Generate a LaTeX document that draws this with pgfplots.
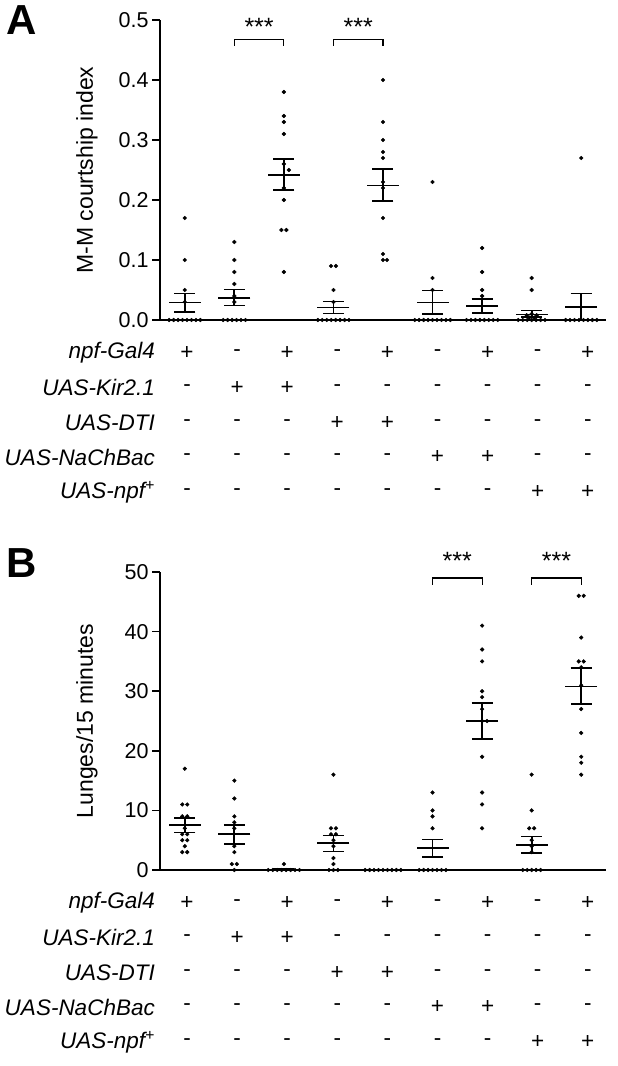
\documentclass[border=0pt]{standalone}
\usepackage{fontspec}
\setmainfont{Liberation Sans}
\usepackage{pgfplots}
\usepackage{pgfplotstable}
\pgfplotsset{compat=1.18}

\newcommand{\tickfont}{\fontsize{21.5}{26}\selectfont}
\newcommand{\rowfont}{\fontsize{22.5}{27}\selectfont}
\newcommand{\labfont}{\fontsize{23}{28}\selectfont}
\newcommand{\starfont}{\fontsize{25}{30}\selectfont}

\pgfplotsset{
  panel/.style={
    scale only axis, width=446pt,
    xmin=0.5, xmax=9.5, xtick=\empty, ymin=0,
    axis x line=bottom, axis y line=left,
    axis line style={-, line width=1.5pt},
    ytick style={line width=1.5pt, black},
    tick align=outside, major tick length=8pt,
    tick label style={font=\tickfont},
    /pgf/number format/assume math mode=true,
    ylabel style={font=\labfont, at={(axis description cs:-0.164,0.5)}, anchor=center},
    clip=false,
  },
  dots/.style={only marks, mark=*, mark size=1.9pt, black},
  meansem/.style={only marks, mark=-, mark size=16pt, black,
    mark options={line width=1.7pt, draw=black},
    error bars/.cd, y dir=both, y explicit, error mark=|,
    error bar style={line width=1.7pt, black},
    error mark options={mark size=10.5pt, line width=1.7pt, draw=black}},
}

% group, mean, sem up, sem down
\pgfplotstableread{
x  m      ep     em
1  0.029  0.015  0.016
2  0.037  0.014  0.013
3  0.242  0.026  0.025
4  0.021  0.010  0.010
5  0.224  0.028  0.026
6  0.029  0.020  0.019
7  0.023  0.012  0.011
8  0.009  0.007  0.004
9  0.022  0.022  0.022
}\courtship
\pgfplotstableread{
x  m     ep    em
1  7.5   1.2   1.2
2  6.0   1.6   1.6
3  0.1   0.1   0.1
4  4.5   1.3   1.4
5  0.0   0.0   0.0
6  3.7   1.4   1.5
7  25.0  3.0   3.0
8  4.2   1.4   1.3
9  30.8  3.1   2.9
}\lunges

\newcommand{\genotable}[1]{%
  \foreach \lab [count=\r from 0] in {{npf-Gal4},{UAS-Kir2.1},{UAS-DTI},{UAS-NaChBac},{UAS-npf\textsuperscript{+}}} {
    \node[anchor=east, font=\rowfont\itshape, inner sep=0pt] at (155pt,{-(#1+33+34.8*\r)*1pt}) {\lab};
  }
  \foreach \row [count=\r from 0] in {{+,-,+,-,+,-,+,-,+},{-,+,+,-,-,-,-,-,-},{-,-,-,+,+,-,-,-,-},{-,-,-,-,-,+,+,-,-},{-,-,-,-,-,-,-,+,+}} {
    \foreach \c [count=\i from 0] in \row {
      \node[font=\rowfont, inner sep=0pt] at ({(187+50.1*\i)*1pt},{-(#1+33+34.8*\r)*1pt}) {\c};
    }
  }
}

\begin{document}
\begin{tikzpicture}
\path[use as bounding box] (0pt,0pt) rectangle (618pt,-1066pt);

% ---------------- A ----------------
\node[font=\fontsize{42}{46}\selectfont\bfseries] at (22pt,-20pt) {A};
\begin{axis}[panel, at={(160pt,-320pt)}, anchor=south west, height=300pt,
    ymax=0.5, ytick={0,0.1,...,0.5},
    yticklabel style={/pgf/number format/.cd, fixed, fixed zerofill, precision=1},
    ylabel={M-M courtship index}]
\addplot[dots] coordinates {
 (1,0.17) (1,0.10) (1,0.05) (1,0.03)
 (0.685,0) (0.775,0) (0.865,0) (0.955,0) (1.045,0) (1.135,0) (1.225,0) (1.315,0)
 (2,0.13) (2,0.10) (2,0.08) (2,0.06) (2,0.04) (2,0.03)
 (1.775,0) (1.865,0) (1.955,0) (2.045,0) (2.135,0) (2.225,0)
 (3,0.38) (3,0.34) (3,0.33) (3,0.31) (3,0.26) (3.1,0.25) (3,0.22) (3,0.20)
 (2.95,0.15) (3.05,0.15) (3,0.08)
 (3.95,0.09) (4.05,0.09) (4,0.05) (4,0.03)
 (3.685,0) (3.775,0) (3.865,0) (3.955,0) (4.045,0) (4.135,0) (4.225,0) (4.315,0)
 (5,0.40) (5,0.33) (5,0.30) (5,0.28) (5,0.27) (5,0.23) (5,0.22) (5,0.17)
 (5,0.11) (5,0.10) (5.08,0.10)
 (6,0.23) (6,0.07) (6,0.05)
 (5.64,0) (5.73,0) (5.82,0) (5.91,0) (6.0,0) (6.09,0) (6.18,0) (6.27,0) (6.36,0)
 (7,0.12) (7,0.08) (7,0.05) (7,0.04)
 (6.685,0) (6.775,0) (6.865,0) (6.955,0) (7.045,0) (7.135,0) (7.225,0) (7.315,0)
 (8,0.07) (8,0.05) (7.9,0.008) (8,0.01) (8.1,0.008) (7.95,0.004) (8.05,0.004)
 (7.73,0) (7.82,0) (7.91,0) (8.0,0) (8.09,0) (8.18,0) (8.27,0)
 (9,0.27)
 (8.685,0) (8.775,0) (8.865,0) (8.955,0) (9.045,0) (9.135,0) (9.225,0) (9.315,0)
};
\addplot[meansem] table[x=x, y=m, y error plus=ep, y error minus=em] {\courtship};
\draw[line width=1.2pt] (axis cs:2,0.457) -- (axis cs:2,0.468) -- (axis cs:3,0.468) -- (axis cs:3,0.457);
\draw[line width=1.2pt] (axis cs:4,0.457) -- (axis cs:4,0.468) -- (axis cs:5,0.468) -- (axis cs:5,0.457);
\node[font=\starfont] at (axis cs:2.5,0.488) {***};
\node[font=\starfont] at (axis cs:4.5,0.488) {***};
\end{axis}
\genotable{320}

% ---------------- B ----------------
\node[font=\fontsize{42}{46}\selectfont\bfseries] at (22pt,-563pt) {B};
\begin{axis}[panel, at={(160pt,-870pt)}, anchor=south west, height=298pt,
    ymax=50, ytick={0,10,...,50},
    ylabel={Lunges/15 minutes}]
\addplot[dots] coordinates {
 (1,17) (0.95,11) (1.05,11) (0.95,9) (1.05,9) (1,7) (0.95,6) (1.05,6)
 (0.95,5) (1.05,5) (1,4) (0.95,3) (1.05,3)
 (2,15) (2,12) (2,9) (2,8) (2,7) (2,4) (2,3) (1.95,1) (2.05,1) (2,0)
 (3,1)
 (2.685,0) (2.775,0) (2.865,0) (2.955,0) (3.045,0) (3.135,0) (3.225,0) (3.315,0)
 (4,16) (3.95,7) (4.05,7) (3.95,6) (4.05,6) (4,5) (4,4) (4,2) (4,1)
 (3.91,0) (4,0) (4.09,0)
 (4.64,0) (4.73,0) (4.82,0) (4.91,0) (5.0,0) (5.09,0) (5.18,0) (5.27,0) (5.36,0)
 (6,13) (6,10) (6,9) (6,7)
 (5.73,0) (5.82,0) (5.91,0) (6.0,0) (6.09,0) (6.18,0) (6.27,0)
 (7,41) (7,37) (7,35) (7,30) (7,29) (7,27) (7,25) (7.1,25) (7,19) (7,13) (7,11) (7,7)
 (8,16) (8,10) (7.95,7) (8.05,7) (8,5) (8,4) (8,3)
 (7.82,0) (7.91,0) (8.0,0) (8.09,0) (8.18,0)
 (8.95,46) (9.05,46) (9,39) (8.95,35) (9.05,35) (9,34) (9,31) (9,27) (9,23)
 (9,19) (9,18) (9,16)
};
\addplot[meansem] table[x=x, y=m, y error plus=ep, y error minus=em] {\lunges};
\draw[line width=1.2pt] (axis cs:6,47.9) -- (axis cs:6,49.0) -- (axis cs:7,49.0) -- (axis cs:7,47.9);
\draw[line width=1.2pt] (axis cs:8,47.9) -- (axis cs:8,49.0) -- (axis cs:9,49.0) -- (axis cs:9,47.9);
\node[font=\starfont] at (axis cs:6.5,51.8) {***};
\node[font=\starfont] at (axis cs:8.5,51.8) {***};
\end{axis}
\genotable{870}
\end{tikzpicture}
\end{document}
